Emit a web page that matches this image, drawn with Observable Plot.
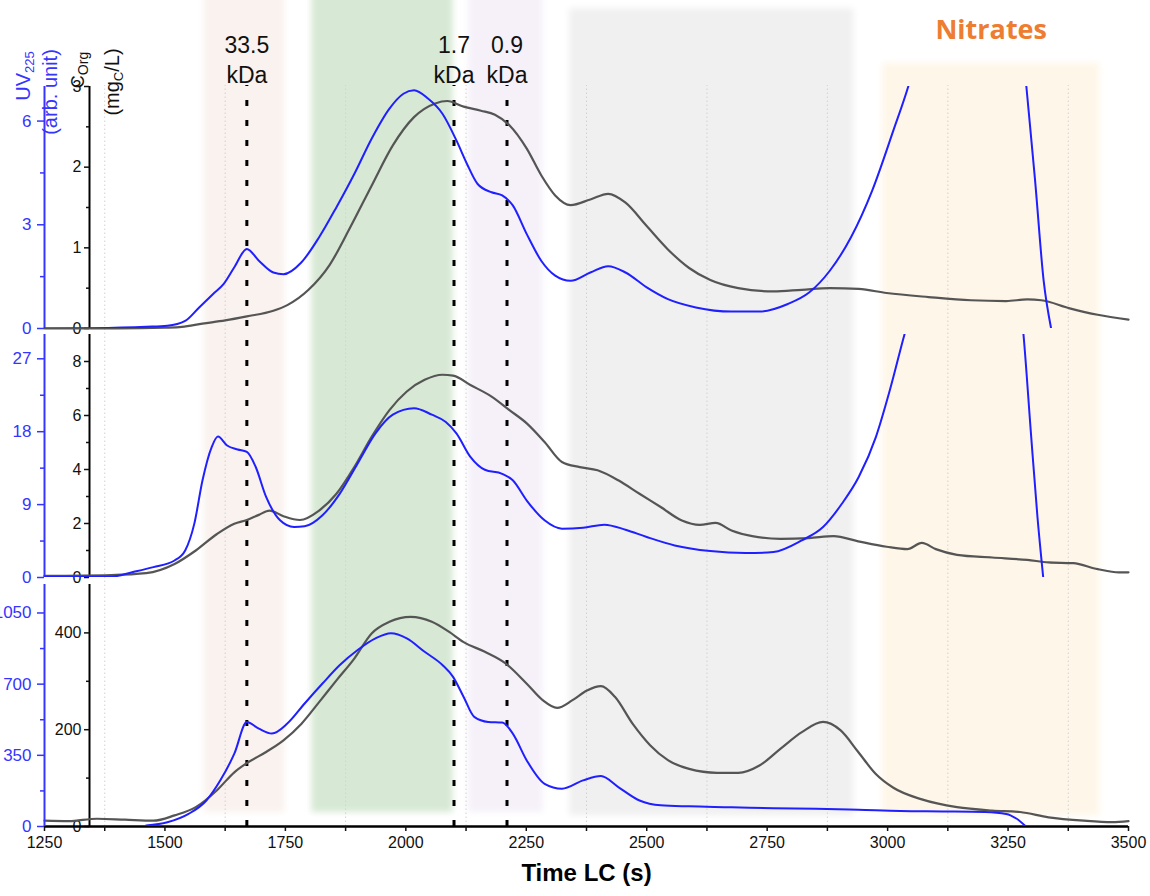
<!DOCTYPE html>
<html>
<head>
<meta charset="utf-8">
<script src="https://cdn.jsdelivr.net/npm/d3@7"></script>
<script src="https://cdn.jsdelivr.net/npm/@observablehq/plot@0.6"></script>
<style>
  html, body { margin: 0; padding: 0; background: #fff; }
  #chart { position: relative; width: 1150px; height: 896px; overflow: hidden; }
  #chart svg { position: absolute; left: 0; top: 0; }
</style>
</head>
<body>
<div id="chart"></div>
<script>
// ---------------- DATA ----------------
// Panel 1: C_Org (mgC/L) and UV225 (arb. unit)
const p1BlackT = [1250, 1400, 1500, 1535, 1578, 1625, 1670, 1725, 1754, 1798, 1842, 1886, 1929, 1973, 2017, 2061, 2086, 2120, 2156, 2185, 2215, 2251, 2281, 2310, 2342, 2383, 2420, 2456, 2500, 2544, 2588, 2632, 2690, 2763, 2822, 2880, 2940, 2998, 3085, 3173, 3246, 3290, 3319, 3378, 3436, 3500];
const p1BlackV = [0, 0, 0.01, 0.02, 0.06, 0.1, 0.15, 0.22, 0.29, 0.48, 0.79, 1.27, 1.77, 2.27, 2.62, 2.79, 2.82, 2.75, 2.70, 2.65, 2.52, 2.23, 1.90, 1.65, 1.53, 1.60, 1.67, 1.56, 1.27, 0.98, 0.75, 0.60, 0.50, 0.46, 0.48, 0.50, 0.49, 0.44, 0.39, 0.35, 0.34, 0.36, 0.35, 0.25, 0.17, 0.11];
const p1BlueT = [1250, 1350, 1461, 1505, 1542, 1571, 1600, 1622, 1644, 1670, 1695, 1725, 1746, 1783, 1820, 1856, 1893, 1929, 1966, 1995, 2017, 2046, 2076, 2105, 2127, 2149, 2178, 2200, 2222, 2251, 2281, 2310, 2342, 2383, 2420, 2456, 2500, 2544, 2602, 2676, 2734, 2793, 2837, 2880, 2924, 2968, 3012, 3045, 3075, 3105, 3140, 3180, 3220, 3250, 3270, 3288, 3306, 3324, 3339];
const p1BlueV = [0, 0.01, 0.05, 0.08, 0.22, 0.61, 1.0, 1.29, 1.77, 2.30, 1.96, 1.62, 1.57, 1.91, 2.64, 3.51, 4.47, 5.49, 6.36, 6.79, 6.89, 6.65, 6.21, 5.44, 4.76, 4.18, 3.94, 3.85, 3.56, 2.73, 1.96, 1.53, 1.38, 1.62, 1.80, 1.62, 1.19, 0.85, 0.61, 0.49, 0.49, 0.71, 1.04, 1.67, 2.64, 3.99, 5.73, 7.1, 8.7, 10.6, 13, 15, 14, 12, 9.8, 7.0, 4.3, 1.37, 0.03];

// Panel 2
const p2BlackT = [1250, 1388, 1461, 1520, 1564, 1608, 1644, 1670, 1695, 1717, 1746, 1780, 1820, 1856, 1893, 1929, 1966, 2002, 2039, 2076, 2098, 2134, 2178, 2215, 2251, 2288, 2324, 2361, 2398, 2441, 2485, 2529, 2573, 2610, 2643, 2676, 2719, 2778, 2837, 2888, 2939, 2998, 3041, 3071, 3100, 3144, 3217, 3290, 3334, 3385, 3436, 3480, 3500];
const p2BlackV = [0.06, 0.09, 0.16, 0.5, 1.0, 1.61, 1.99, 2.13, 2.32, 2.48, 2.27, 2.13, 2.48, 3.10, 4.09, 5.21, 6.20, 6.89, 7.32, 7.51, 7.48, 7.13, 6.70, 6.20, 5.71, 5.02, 4.28, 4.09, 3.97, 3.60, 3.10, 2.61, 2.11, 1.95, 2.02, 1.74, 1.53, 1.43, 1.46, 1.53, 1.34, 1.14, 1.05, 1.28, 1.05, 0.84, 0.74, 0.65, 0.56, 0.53, 0.31, 0.19, 0.19];
const p2BlueT = [1250, 1388, 1432, 1476, 1520, 1542, 1561, 1578, 1597, 1610, 1629, 1651, 1670, 1688, 1710, 1739, 1768, 1790, 1827, 1863, 1900, 1937, 1973, 2017, 2054, 2083, 2105, 2134, 2164, 2200, 2222, 2251, 2288, 2324, 2368, 2412, 2456, 2500, 2558, 2632, 2705, 2763, 2822, 2866, 2905, 2940, 2976, 3005, 3035, 3070, 3110, 3160, 3210, 3250, 3282, 3297, 3311, 3323];
const p2BlueV = [0.1, 0.1, 0.66, 1.28, 2.1, 3.34, 6.65, 12.0, 16.1, 17.4, 16.3, 15.8, 15.5, 13.7, 9.95, 7.06, 6.23, 6.32, 7.68, 10.36, 14.08, 17.8, 20.1, 20.9, 20.1, 19.2, 17.8, 14.9, 13.3, 12.8, 12.0, 9.5, 7.06, 6.03, 6.15, 6.52, 5.9, 5.0, 3.96, 3.26, 3.01, 3.14, 4.58, 6.23, 9.1, 12.4, 17.4, 23.2, 30.0, 37, 45, 52, 50, 42, 30, 18.2, 7.5, 0];

// Panel 3
const p3BlackT = [1250, 1300, 1359, 1417, 1476, 1520, 1564, 1608, 1644, 1670, 1710, 1746, 1783, 1820, 1856, 1893, 1929, 1966, 2010, 2054, 2090, 2120, 2164, 2207, 2251, 2284, 2314, 2346, 2376, 2405, 2434, 2471, 2507, 2544, 2588, 2646, 2690, 2734, 2778, 2822, 2866, 2902, 2939, 2975, 3012, 3071, 3144, 3217, 3275, 3334, 3407, 3466, 3500];
const p3BlackV = [12, 11, 16, 14, 12, 23, 40, 75, 112, 131, 154, 178, 212, 257, 302, 347, 399, 423, 433, 423, 402, 381, 361, 337, 295, 261, 245, 261, 281, 290, 268, 212, 168, 137, 119, 111, 111, 126, 161, 195, 216, 199, 154, 109, 80, 56, 40, 33, 30, 19, 12, 9, 11];
const p3BlueT = [1461, 1505, 1549, 1586, 1615, 1644, 1670, 1695, 1722, 1754, 1790, 1827, 1863, 1900, 1937, 1969, 2002, 2039, 2076, 2098, 2120, 2142, 2171, 2200, 2222, 2251, 2288, 2324, 2368, 2405, 2441, 2485, 2529, 2588, 2676, 2763, 2851, 2939, 3027, 3115, 3202, 3246, 3268, 3287];
const p3BlueV = [5, 21, 62, 128, 227, 358, 514, 481, 457, 506, 605, 703, 794, 868, 925, 950, 925, 859, 794, 736, 637, 539, 514, 511, 457, 325, 210, 186, 227, 248, 194, 128, 104, 99, 95, 90, 87, 82, 76, 74, 71, 62, 38, 0];

// Axis ticks
const xTicks = [1250, 1500, 1750, 2000, 2250, 2500, 2750, 3000, 3250, 3500];
const xMinorTicks = [1375, 1625, 1875, 2125, 2375, 2625, 2875, 3125, 3375];
const p1BlackTicks = [0, 1, 2, 3], p1BlackMinor = [0.5, 1.5, 2.5];
const p1BlueTicks = [0, 3, 6], p1BlueMinor = [1.5, 4.5];
const p2BlackTicks = [0, 2, 4, 6, 8], p2BlackMinor = [1, 3, 5, 7];
const p2BlueTicks = [0, 9, 18, 27], p2BlueMinor = [4.5, 13.5, 22.5];
const p3BlackTicks = [0, 200, 400], p3BlackMinor = [100, 300];
const p3BlueTicks = [0, 350, 700, 1050], p3BlueMinor = [175, 525, 875];

// Shaded fractions (time ranges) and markers
const bandStart = [1582, 1805, 2130, 2340, 2990];
const bandEnd = [1748, 2098, 2285, 2930, 3440];
const markerT = [1670, 2100, 2210];
const markerLabels = ["33.5\nkDa", "1.7\nkDa", "0.9\nkDa"];
const nitrateLabel = "Nitrates";

// ---------------- STYLE ----------------
const bandColor = ["#f9f2ee", "#d7e9d4", "#f6f1f9", "#f0f0f0", "#fef6e8"];
const bandTop = [1.01, 1.01, 1.01, 0.99, 0.924];
const bandBottom = [0.017, 0.017, 0.017, 0.013, 0.013];
const BLUE = "#1f1fff", BLUE_AXIS = "#3535ff", GREY = "#555555";
const FONT = "'Liberation Sans', Arial, Helvetica, sans-serif";
const W = 1150, H = 896, ML = 44, MR = 22;
const xDomain = [1250, 3500];
const svgStyle = {background: "transparent", overflow: "visible", fontFamily: FONT};

const series = (ts, vs) => ts.map((t, i) => ({t, v: vs[i]}));

// ---------------- BACKGROUND LAYER ----------------
const bands = bandStart.map((s, i) => ({s, e: bandEnd[i], c: bandColor[i], y1: bandBottom[i], y2: bandTop[i]}));
const markerTop = (826 - 85) / 826;

const bg = Plot.plot({
  width: W, height: H, marginLeft: ML, marginRight: MR, marginTop: 0, marginBottom: 70,
  x: {domain: xDomain, axis: null, label: null},
  y: {domain: [0, 1], axis: null, label: null},
  color: {type: "identity"},
  style: svgStyle,
  marks: [
    Plot.rect(bands, {x1: "s", x2: "e", y1: "y1", y2: "y2", fill: "c"}),
    Plot.ruleX(xMinorTicks, {y1: 0, y2: markerTop, stroke: "#d2d2d2", strokeWidth: 1, strokeDasharray: "1.5,2.5"}),
    Plot.ruleX(markerT, {y1: 0, y2: markerTop, stroke: "#000", strokeWidth: 3, strokeDasharray: "6,14"}),
    Plot.text(markerT.map((t, i) => ({t, label: markerLabels[i]})), {
      x: "t", text: "label", frameAnchor: "top", lineAnchor: "top", dy: 31,
      fontSize: 23, lineHeight: 1.3, fill: "#111"
    }),
    Plot.text([{t: (bandStart[4] + bandEnd[4]) / 2, label: nitrateLabel}], {
      x: "t", text: "label", frameAnchor: "top", lineAnchor: "middle", dy: 30,
      fontSize: 27, fontWeight: "bold", fill: "#ed7d31", fontFamily: "'Open Sans', Lato, sans-serif"
    })
  ]
});

// soft edges of the shaded fractions
{
  const s = d3.select(bg);
  s.insert("defs", ":first-child").append("filter").attr("id", "soft")
    .attr("filterUnits", "userSpaceOnUse")
    .attr("x", 0).attr("y", -20).attr("width", W).attr("height", H)
    .append("feGaussianBlur").attr("stdDeviation", 3);
  s.selectAll("rect").filter(function() { return this.parentNode && this.parentNode.getAttribute("aria-label") === "rect"; })
    .attr("filter", "url(#soft)");
}

// ---------------- PANEL LAYERS ----------------
function blackLayer({top, bottom, domain, data, ticks, minor, xAxis}) {
  const marks = [
    Plot.ruleX([xDomain[0]], {dx: 45, stroke: "#000", strokeWidth: 2}),
    Plot.axisY(ticks, {anchor: "left", dx: 45, tickSize: 5, tickPadding: 3, fontSize: 16, label: null,
      color: "#111", stroke: "#111", fill: "#111", strokeWidth: 1.5, tickFormat: d => String(d)}),
    Plot.axisY(minor, {anchor: "left", dx: 45, tickSize: 3, label: null, color: "#111", stroke: "#111", strokeWidth: 1.5, tickFormat: () => ""}),
    Plot.line(data, {x: "t", y: "v", stroke: GREY, strokeWidth: 2.2, curve: "monotone-x"})
  ];
  if (xAxis) {
    marks.push(
      Plot.ruleY([domain[0]], {stroke: "#000", strokeWidth: 2.5}),
      Plot.axisX(xTicks, {anchor: "bottom", tickSize: 5, tickPadding: 5, fontSize: 16, strokeWidth: 1.5, label: null,
        color: "#111", stroke: "#111", fill: "#111", tickFormat: d3.format("d")}),
      Plot.axisX(xMinorTicks, {anchor: "bottom", tickSize: 5, strokeWidth: 1.5, label: null, color: "#111", stroke: "#111", tickFormat: () => ""}),
      Plot.text(["Time LC (s)"], {text: d => d, frameAnchor: "bottom", dy: 54, fontSize: 24, fontWeight: "bold", fill: "#000"})
    );
  }
  return Plot.plot({
    width: W, height: H, marginLeft: ML, marginRight: MR, marginTop: top, marginBottom: H - bottom,
    x: {domain: xDomain, axis: null, label: null},
    y: {domain, axis: null, label: null},
    style: svgStyle,
    marks
  });
}

function blueLayer({top, bottom, domain, data, ticks, minor, clip}) {
  return Plot.plot({
    width: W, height: H, marginLeft: ML, marginRight: MR, marginTop: top, marginBottom: H - bottom,
    x: {domain: xDomain, axis: null, label: null},
    y: {domain, axis: null, label: null},
    style: svgStyle,
    marks: [
      Plot.ruleX([xDomain[0]], {stroke: BLUE_AXIS, strokeWidth: 2}),
      Plot.axisY(ticks, {anchor: "left", tickSize: 7, tickPadding: 6, fontSize: 17, label: null,
        color: BLUE_AXIS, stroke: BLUE_AXIS, fill: BLUE_AXIS, strokeWidth: 1.5, tickFormat: d => String(d)}),
      Plot.axisY(minor, {anchor: "left", tickSize: 4, label: null, color: BLUE_AXIS, stroke: BLUE_AXIS, strokeWidth: 1.5, tickFormat: () => ""}),
      Plot.line(data, {x: "t", y: "v", stroke: BLUE, strokeWidth: 2, curve: "monotone-x", clip})
    ]
  });
}

const layers = [
  bg,
  blackLayer({top: 86, bottom: 328, domain: [0, 3], data: series(p1BlackT, p1BlackV), ticks: p1BlackTicks, minor: p1BlackMinor}),
  blueLayer({top: 86, bottom: 328, domain: [0, 7], data: series(p1BlueT, p1BlueV), ticks: p1BlueTicks, minor: p1BlueMinor, clip: true}),
  blackLayer({top: 334, bottom: 577, domain: [0, 9], data: series(p2BlackT, p2BlackV), ticks: p2BlackTicks, minor: p2BlackMinor}),
  blueLayer({top: 334, bottom: 577, domain: [0, 30], data: series(p2BlueT, p2BlueV), ticks: p2BlueTicks, minor: p2BlueMinor, clip: true}),
  blackLayer({top: 584, bottom: 826, domain: [0, 500], data: series(p3BlackT, p3BlackV), ticks: p3BlackTicks, minor: p3BlackMinor, xAxis: true}),
  blueLayer({top: 584, bottom: 826, domain: [0, 1190], data: series(p3BlueT, p3BlueV), ticks: p3BlueTicks, minor: p3BlueMinor, clip: true})
];

const chart = document.getElementById("chart");
layers.forEach(l => chart.appendChild(l));

// ---------------- AXIS TITLES (rotated, with subscripts) ----------------
const g = d3.select(bg).append("g").attr("font-family", FONT);
function vtext(x, y, parts, fill) {
  const t = g.append("text").attr("transform", `translate(${x},${y}) rotate(-90)`).attr("fill", fill);
  parts.forEach(([s, size, dy]) => t.append("tspan").attr("font-size", size).attr("dy", dy).text(s));
}
vtext(30, 76, [["UV", 20, 0], ["225", 13, 4]], BLUE_AXIS);
vtext(57, 92, [["(arb. unit)", 20, 0]], BLUE_AXIS);
vtext(84, 70, [["C", 18, 0], ["Org", 14, 4]], "#111");
vtext(119, 82, [["(mg", 20, 0], ["C", 13, 4], ["/L)", 20, -4]], "#111");
</script>
</body>
</html>
